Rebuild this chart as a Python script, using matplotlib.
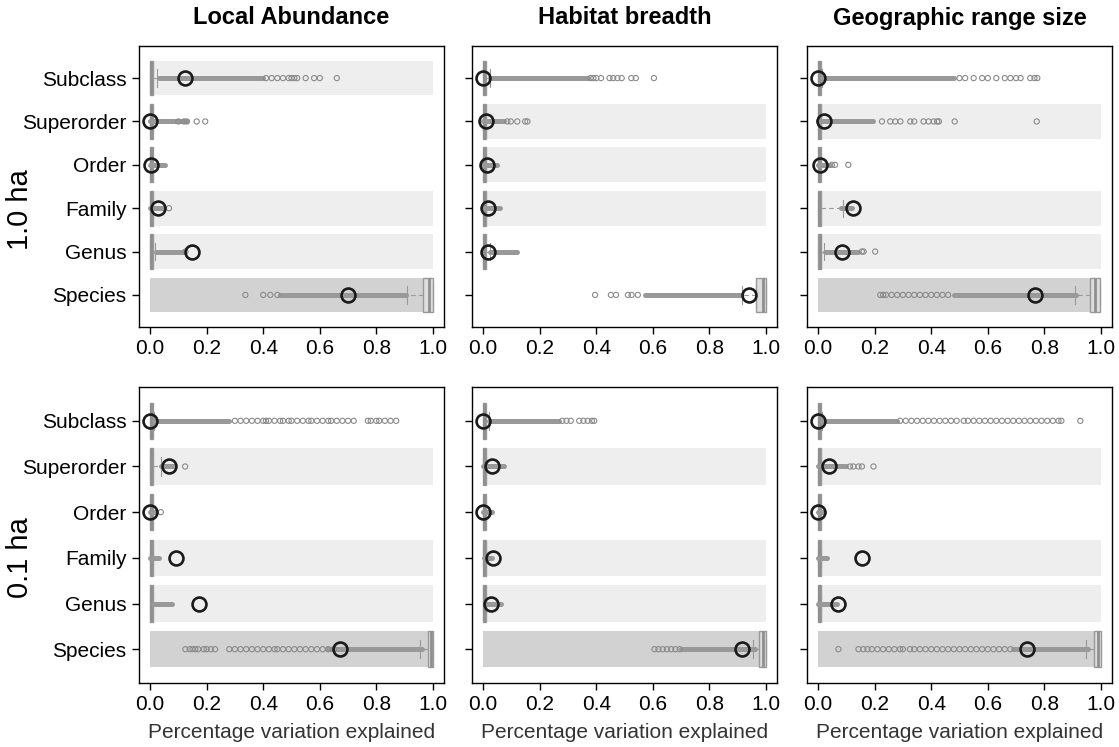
import matplotlib
matplotlib.use("Agg")
import matplotlib.pyplot as plt

plt.rcParams['font.family'] = ['Liberation Sans', 'DejaVu Sans']

taxa = ["Subclass", "Superorder", "Order", "Family", "Genus", "Species"]
metrics = ["Local Abundance", "Habitat breadth", "Geographic range size"]
scales = ["1.0 ha", "0.1 ha"]
xticks = [0.0, 0.2, 0.4, 0.6, 0.8, 1.0]
xlabel = "Percentage variation explained"

# row shading: 0 none, 1 light, 2 dark
la10_band = [1, 0, 0, 1, 1, 2]
hb10_band = [0, 1, 1, 1, 0, 0]
gr10_band = [0, 1, 0, 1, 1, 2]
la01_band = [0, 1, 0, 1, 1, 2]
hb01_band = [0, 1, 0, 1, 1, 2]
gr01_band = [0, 1, 0, 1, 1, 2]

# mean values (large open circles)
la10_mean = [0.125, 0.0, 0.003, 0.027, 0.150, 0.700]
hb10_mean = [0.0, 0.011, 0.015, 0.018, 0.018, 0.941]
gr10_mean = [0.0, 0.021, 0.007, 0.122, 0.084, 0.767]
la01_mean = [0.0, 0.067, 0.0, 0.091, 0.174, 0.670]
hb01_mean = [0.0, 0.030, 0.0, 0.035, 0.027, 0.914]
gr01_mean = [0.001, 0.039, 0.001, 0.155, 0.072, 0.737]

# box stats: (q1, median, q3, lower whisker, upper whisker)
la10_box = [(0, 0.004, 0.010, 0, 0.025), (0, 0.004, 0.010, 0, 0.010), (0, 0.004, 0.010, 0, 0.010),
            (0, 0.004, 0.010, 0, 0.010), (0, 0.004, 0.010, 0, 0.018), (0.965, 0.985, 1.0, 0.908, 1.0)]
hb10_box = [(0, 0.004, 0.010, 0, 0.024), (0, 0.004, 0.010, 0, 0.010), (0, 0.004, 0.010, 0, 0.010),
            (0, 0.004, 0.010, 0, 0.010), (0, 0.004, 0.010, 0, 0.024), (0.965, 0.988, 1.0, 0.914, 1.0)]
gr10_box = [(0, 0.004, 0.010, 0, 0.015), (0, 0.004, 0.010, 0, 0.010), (0, 0.004, 0.010, 0, 0.010),
            (0, 0.004, 0.010, 0, 0.090), (0, 0.006, 0.012, 0, 0.021), (0.962, 0.980, 0.998, 0.909, 0.998)]
la01_box = [(0, 0.004, 0.010, 0, 0.015), (0, 0.004, 0.010, 0, 0.040), (0, 0.004, 0.010, 0, 0.010),
            (0, 0.004, 0.010, 0, 0.010), (0, 0.004, 0.010, 0, 0.012), (0.981, 0.992, 0.999, 0.955, 0.999)]
hb01_box = [(0, 0.004, 0.010, 0, 0.021), (0, 0.004, 0.010, 0, 0.010), (0, 0.004, 0.010, 0, 0.010),
            (0, 0.004, 0.010, 0, 0.010), (0, 0.004, 0.010, 0, 0.010), (0.976, 0.990, 1.0, 0.953, 1.0)]
gr01_box = [(0, 0.004, 0.010, 0, 0.015), (0, 0.004, 0.010, 0, 0.010), (0, 0.004, 0.010, 0, 0.010),
            (0, 0.004, 0.010, 0, 0.010), (0, 0.004, 0.010, 0, 0.010), (0.976, 0.990, 1.0, 0.947, 1.0)]

# densely packed outlier runs (lo, hi)
la10_dense = [(0.03, 0.40), (0.0, 0.13), (0.0, 0.053), (0.0, 0.05), (0.02, 0.12), (0.46, 0.905)]
hb10_dense = [(0.025, 0.37), (0.0, 0.074), (0.0, 0.048), (0.0, 0.059), (0.024, 0.119), (0.574, 0.912)]
gr10_dense = [(0.015, 0.48), (0.0, 0.194), (0.0, 0.043), (0.08, 0.12), (0.025, 0.143), (0.48, 0.91)]
la01_dense = [(0.015, 0.278), (0.04, 0.083), (0.0, 0.02), (0.0, 0.03), (0.012, 0.077), (0.627, 0.963)]
hb01_dense = [(0.021, 0.27), (0.0, 0.074), (0.0, 0.03), (0.005, 0.03), (0.01, 0.063), (0.70, 0.96)]
gr01_dense = [(0.015, 0.279), (0.0, 0.10), (0.0, 0.02), (0.0, 0.03), (0.0, 0.066), (0.69, 0.953)]

# individual outliers
la10_out = [[0.41, 0.43, 0.45, 0.47, 0.49, 0.50, 0.51, 0.52, 0.55, 0.58, 0.60, 0.66],
            [0.10, 0.12, 0.13, 0.165, 0.195], [], [0.067], [0.125],
            [0.337, 0.40, 0.425, 0.45]]
hb10_out = [[0.38, 0.39, 0.40, 0.417, 0.447, 0.46, 0.475, 0.49, 0.524, 0.54, 0.604],
            [0.086, 0.098, 0.121, 0.149, 0.157], [], [], [],
            [0.396, 0.452, 0.47, 0.512, 0.525, 0.547]]
gr10_out = [[0.50, 0.52, 0.55, 0.58, 0.60, 0.63, 0.66, 0.68, 0.70, 0.716, 0.75, 0.765, 0.775],
            [0.226, 0.255, 0.273, 0.291, 0.326, 0.340, 0.373, 0.391, 0.409, 0.421, 0.427, 0.483, 0.773],
            [0.049, 0.06, 0.107], [], [0.155, 0.161, 0.202],
            [0.22, 0.23, 0.24, 0.26, 0.28, 0.30, 0.32, 0.34, 0.36, 0.38, 0.40, 0.42, 0.44, 0.46]]
la01_out = [[0.30, 0.32, 0.34, 0.36, 0.38, 0.40, 0.41, 0.42, 0.44, 0.46, 0.47, 0.49, 0.50, 0.52,
             0.54, 0.56, 0.57, 0.59, 0.61, 0.63, 0.64, 0.66, 0.68, 0.70, 0.72,
             0.77, 0.78, 0.80, 0.81, 0.83, 0.85, 0.87],
            [0.124], [0.038], [], [],
            [0.125, 0.14, 0.15, 0.16, 0.17, 0.19, 0.20, 0.215, 0.23, 0.28, 0.30, 0.32, 0.34, 0.36,
             0.38, 0.40, 0.42, 0.44, 0.45, 0.47, 0.49, 0.51, 0.53, 0.55, 0.57, 0.59, 0.61, 0.63, 0.65]]
hb01_out = [[0.28, 0.295, 0.31, 0.34, 0.355, 0.37, 0.385, 0.393], [], [], [], [],
            [0.606, 0.62, 0.635, 0.65, 0.665, 0.68, 0.695]]
gr01_out = [[0.29, 0.31, 0.33, 0.35, 0.37, 0.39, 0.41, 0.43, 0.45, 0.47, 0.49, 0.515, 0.53, 0.55,
             0.57, 0.59, 0.61, 0.63, 0.65, 0.67, 0.69, 0.71, 0.73, 0.75, 0.77, 0.79, 0.81, 0.83,
             0.85, 0.86, 0.927],
            [0.113, 0.125, 0.143, 0.155, 0.196], [], [], [],
            [0.072, 0.143, 0.16, 0.175, 0.19, 0.21, 0.23, 0.25, 0.27, 0.29, 0.30, 0.325, 0.34, 0.36,
             0.38, 0.40, 0.42, 0.44, 0.46, 0.48, 0.50, 0.52, 0.54, 0.56, 0.58, 0.60, 0.62, 0.64,
             0.66, 0.68]]

panels = [
    [(la10_band, la10_mean, la10_box, la10_dense, la10_out),
     (hb10_band, hb10_mean, hb10_box, hb10_dense, hb10_out),
     (gr10_band, gr10_mean, gr10_box, gr10_dense, gr10_out)],
    [(la01_band, la01_mean, la01_box, la01_dense, la01_out),
     (hb01_band, hb01_mean, hb01_box, hb01_dense, hb01_out),
     (gr01_band, gr01_mean, gr01_box, gr01_dense, gr01_out)],
]

W, H = 1119, 747
fig = plt.figure(figsize=(W / 100, H / 100), dpi=100)

col_left = [139, 472, 807]
col_w = 305
row_top = [46, 387]
row_h = [281, 296]

band_colors = {1: '#eeeeee', 2: '#d2d2d2'}
grey = '#999999'

for r in range(2):
    for c in range(3):
        band, mean, box, dense, outs = panels[r][c]
        ax = fig.add_axes([col_left[c] / W, 1 - (row_top[r] + row_h[r]) / H,
                           col_w / W, row_h[r] / H])
        pos = list(range(len(taxa)))
        for i, b in enumerate(band):
            if b:
                ax.barh(i, 1.0, left=0.0, height=0.8, color=band_colors[b], zorder=1)
        stats = []
        for (q1, med, q3, wlo, whi) in box:
            stats.append(dict(q1=q1, med=med, q3=q3, whislo=wlo, whishi=whi, fliers=[]))
        bp = ax.bxp(stats, positions=pos, orientation='horizontal', widths=0.8,
                    patch_artist=True, showfliers=False, capwidths=0.4,
                    boxprops=dict(facecolor='#a3a3a3', edgecolor=grey, linewidth=1.0),
                    medianprops=dict(color='#8f8f8f', linewidth=2.0),
                    whiskerprops=dict(color=grey, linewidth=0.8, linestyle=(0, (4, 3))),
                    capprops=dict(color=grey, linewidth=0.8), zorder=2)
        bp['boxes'][-1].set_facecolor('#dedede')
        for i, (lo, hi) in enumerate(dense):
            ax.hlines(i, lo, hi, color='#999999', linewidth=3.6, capstyle='round', zorder=3)
        for i, vals in enumerate(outs):
            if vals:
                ax.scatter(vals, [i] * len(vals), s=14, facecolors='none',
                           edgecolors='#8a8a8a', linewidths=0.8, zorder=4)
        ax.plot(mean, pos, 'o', ms=10, mfc='none', mec='#1a1a1a', mew=1.9,
                linestyle='none', zorder=5)

        ax.set_xlim(-0.039, 1.039)
        ax.set_ylim(5.74, -0.74)
        ax.set_xticks(xticks)
        ax.set_xticklabels([f"{t:.1f}" for t in xticks])
        ax.set_yticks(pos)
        ax.set_yticklabels(taxa if c == 0 else [])
        ax.tick_params(axis='both', direction='out', length=5, width=1,
                       labelsize=15, colors='black', pad=4)
        for s in ax.spines.values():
            s.set_linewidth(1.0)
            s.set_color('black')
        if r == 1:
            ax.set_xlabel(xlabel, fontsize=15, color='#333333', labelpad=6)

for c in range(3):
    fig.text((col_left[c] + col_w / 2) / W, 1 - 18 / H, metrics[c],
             ha='center', va='center', fontsize=17, fontweight='bold')

fig.text(20 / W, 1 - 210 / H, scales[0], rotation=90, ha='center', va='center', fontsize=21)
fig.text(20 / W, 1 - 558 / H, scales[1], rotation=90, ha='center', va='center', fontsize=21)

fig.savefig("out.png", dpi=100)
